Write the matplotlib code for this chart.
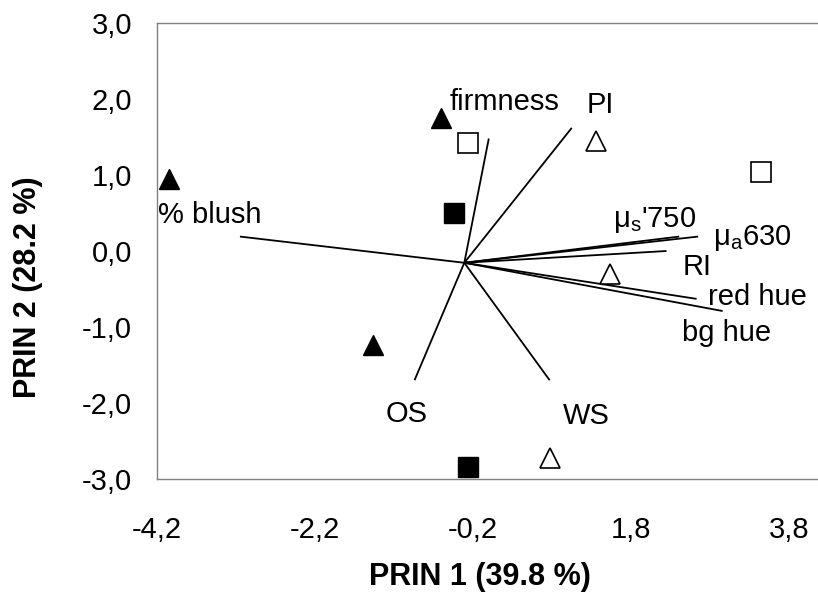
import matplotlib
matplotlib.use("Agg")
import matplotlib.pyplot as plt

plt.rcParams['font.family'] = ['Liberation Sans', 'DejaVu Sans']
plt.rcParams['mathtext.fontset'] = 'custom'
plt.rcParams['mathtext.rm'] = 'Liberation Sans'
plt.rcParams['mathtext.it'] = 'Liberation Sans:italic'

# sample scores (PRIN 1, PRIN 2)
filled_tri_x = [-4.05, -0.61, -1.47]
filled_tri_y = [0.95, 1.75, -1.24]
open_tri_x = [1.36, 1.54, 0.78]
open_tri_y = [1.45, -0.30, -2.72]
filled_sq_x = [-0.44, -0.26]
filled_sq_y = [0.50, -2.84]
open_sq_x = [-0.26, 3.45]
open_sq_y = [1.42, 1.04]

# loading vectors
origin = (-0.31, -0.155)
var_names = ['% blush', 'firmness', 'PI', "$\\mathregular{\\mu_s}$'750",
             "$\\mathregular{\\mu_a}$630", 'RI', 'red hue', 'bg hue', 'OS', 'WS']
load_x = [-3.15, 0.00, 1.05, 2.41, 2.65, 2.25, 2.63, 2.96, -0.94, 0.77]
load_y = [0.19, 1.48, 1.62, 0.19, 0.19, 0.00, -0.63, -0.79, -1.70, -1.70]
# where each label sits (left edge, baseline)
label_x = [-4.19, -0.49, 1.24, 1.57, 2.84, 2.45, 2.77, 2.45, -1.31, 0.94]
label_y = [0.37, 1.86, 1.81, 0.32, 0.08, -0.32, -0.71, -1.19, -2.25, -2.28]

xticks = [-4.2, -2.2, -0.2, 1.8, 3.8]
yticks = [-3.0, -2.0, -1.0, 0.0, 1.0, 2.0, 3.0]

fig = plt.figure(figsize=(8.18, 5.92), dpi=100)
ax = fig.add_axes([157 / 818, 113 / 592, 663.6 / 818, 456 / 592])

for lx, ly in zip(load_x, load_y):
    ax.plot([origin[0], lx], [origin[1], ly], color='black', lw=1.3, solid_capstyle='butt')

ax.plot(filled_tri_x, filled_tri_y, '^', ms=15, mfc='black', mec='black', mew=1, ls='none')
ax.plot(open_tri_x, open_tri_y, '^', ms=15, mfc='white', mec='black', mew=1.2, ls='none')
ax.plot(filled_sq_x, filled_sq_y, 's', ms=14, mfc='black', mec='black', mew=1, ls='none')
ax.plot(open_sq_x, open_sq_y, 's', ms=14, mfc='white', mec='black', mew=1.2, ls='none')

for name, tx, ty in zip(var_names, label_x, label_y):
    ax.text(tx, ty, name, fontsize=21, ha='left', va='baseline')

ax.set_xlim(-4.2, 4.2)
ax.set_ylim(-3.0, 3.0)
ax.set_xticks(xticks)
ax.set_yticks(yticks)
ax.set_xticklabels([f"{v:.1f}".replace('.', ',') for v in xticks])
ax.set_yticklabels([f"{v:.1f}".replace('.', ',') for v in yticks])
ax.tick_params(length=0, labelsize=21)
ax.tick_params(axis='x', pad=27)
ax.tick_params(axis='y', pad=18)
for s in ax.spines.values():
    s.set_color('#808080')
    s.set_linewidth(1.0)

fig.text(480 / 818, 1 - 577 / 592, 'PRIN 1 (39.8 %)', fontsize=22, fontweight='bold',
         ha='center', va='center')
fig.text(28 / 818, 1 - 287 / 592, 'PRIN 2 (28.2 %)', fontsize=22, fontweight='bold',
         ha='center', va='center', rotation=90)

fig.savefig('out.png', dpi=100)
